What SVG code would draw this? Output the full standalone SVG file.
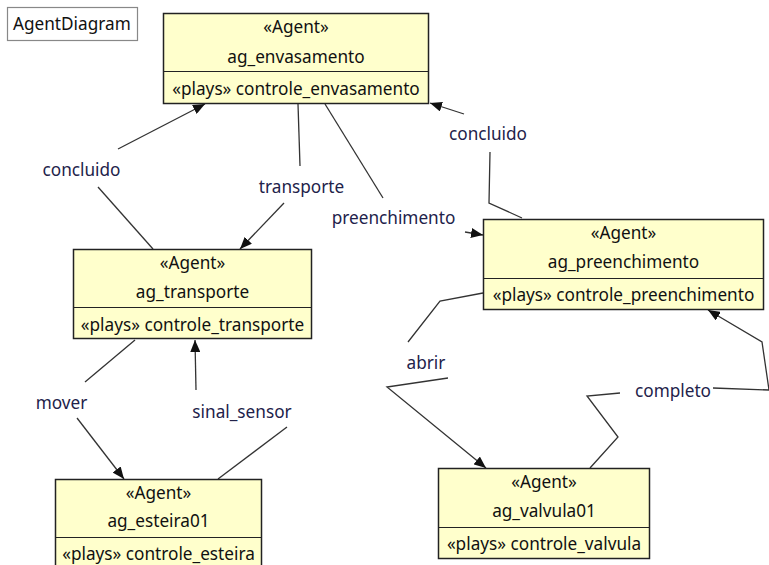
<svg xmlns="http://www.w3.org/2000/svg" width="769" height="565" viewBox="0 0 769 565">
  <defs>
    <marker id="arrow" viewBox="0 0 12 10" refX="12" refY="5" markerWidth="12" markerHeight="10" markerUnits="userSpaceOnUse" orient="auto">
      <path d="M0,0 L12,5 L0,10 z" fill="#111"/>
    </marker>
    <style>
      .node rect { fill: #ffffcc; stroke: #222; stroke-width: 1.5; }
      .node line { stroke: #222; stroke-width: 1.2; }
      .node text { font-family: "Noto Sans", "Open Sans", "DejaVu Sans", sans-serif; font-size: 17.2px; fill: #111; text-anchor: middle; }
      .conn path { fill: none; stroke: #333; stroke-width: 1.3; }
      .conn .arr { marker-end: url(#arrow); }
      .lbl { font-family: "Noto Sans", "Open Sans", "DejaVu Sans", sans-serif; font-size: 17.2px; fill: #22224a; text-anchor: middle; }
      .title rect { fill: #fff; stroke: #888; stroke-width: 1.2; }
      .title text { font-family: "Noto Sans", "Open Sans", "DejaVu Sans", sans-serif; font-size: 17.2px; fill: #111; }
    </style>
  </defs>
  <rect width="769" height="565" fill="#fff"/>

  <g id="diagram-title" class="title">
    <rect x="7.5" y="7.5" width="130" height="33"/>
    <text x="13" y="30">AgentDiagram</text>
  </g>

  <g id="connectors" class="conn">
    <!-- concluido: ag_transporte -> ag_envasamento -->
    <path d="M153,249 L98,187"/>
    <path class="arr" d="M118,149 L205,104"/>
    <!-- transporte: ag_envasamento -> ag_transporte -->
    <path d="M298,104 L300,166"/>
    <path class="arr" d="M284,203 L240,249"/>
    <!-- preenchimento: ag_envasamento -> ag_preenchimento -->
    <path d="M325,104 L383,198"/>
    <path class="arr" d="M465,232 L483,235"/>
    <!-- concluido: ag_preenchimento -> ag_envasamento -->
    <path d="M522,218 L489,203 L490,152"/>
    <path class="arr" d="M464,114 L430,103"/>
    <!-- abrir: ag_preenchimento -> ag_valvula01 -->
    <path d="M483,293 L440,301 L408,342"/>
    <path class="arr" d="M448,378 L387,387 L486,468"/>
    <!-- completo: ag_valvula01 -> ag_preenchimento -->
    <path d="M590,468 L618,437 L587,396 L620,393"/>
    <path class="arr" d="M713,388 L769,390 L762,342 L708,310"/>
    <!-- mover: ag_transporte -> ag_esteira01 -->
    <path d="M135,340 L85,382"/>
    <path class="arr" d="M77,418 L124,479"/>
    <!-- sinal_sensor: ag_esteira01 -> ag_transporte -->
    <path d="M218,479 L287,427"/>
    <path class="arr" d="M196,390 L195,340"/>

    <text class="lbl" x="81.5" y="176">concluido</text>
    <text class="lbl" x="301.5" y="193">transporte</text>
    <text class="lbl" x="393.5" y="224">preenchimento</text>
    <text class="lbl" x="488" y="140">concluido</text>
    <text class="lbl" x="426" y="369">abrir</text>
    <text class="lbl" x="673" y="397">completo</text>
    <text class="lbl" x="61.5" y="409">mover</text>
    <text class="lbl" x="242" y="418">sinal_sensor</text>
  </g>

  <g id="ag_envasamento" class="node">
    <rect x="163.5" y="13.5" width="265" height="90"/>
    <line x1="163.5" y1="71.5" x2="428.5" y2="71.5"/>
    <text x="296" y="33">«Agent»</text>
    <text x="296" y="63">ag_envasamento</text>
    <text x="296" y="95">«plays» controle_envasamento</text>
  </g>

  <g id="ag_transporte" class="node">
    <rect x="73.5" y="249.5" width="238" height="89"/>
    <line x1="73.5" y1="307.5" x2="311.5" y2="307.5"/>
    <text x="192.5" y="269">«Agent»</text>
    <text x="192.5" y="298">ag_transporte</text>
    <text x="192.5" y="331">«plays» controle_transporte</text>
  </g>

  <g id="ag_preenchimento" class="node">
    <rect x="483.5" y="219.5" width="280" height="90"/>
    <line x1="483.5" y1="278.5" x2="763.5" y2="278.5"/>
    <text x="623.5" y="239">«Agent»</text>
    <text x="623.5" y="268">ag_preenchimento</text>
    <text x="623.5" y="301">«plays» controle_preenchimento</text>
  </g>

  <g id="ag_esteira01" class="node">
    <rect x="55.5" y="479.5" width="206" height="100"/>
    <line x1="55.5" y1="537.5" x2="261.5" y2="537.5"/>
    <text x="158.5" y="499">«Agent»</text>
    <text x="158.5" y="527">ag_esteira01</text>
    <text x="158.5" y="560">«plays» controle_esteira</text>
  </g>

  <g id="ag_valvula01" class="node">
    <rect x="438.5" y="468.5" width="211" height="90"/>
    <line x1="438.5" y1="527.5" x2="649.5" y2="527.5"/>
    <text x="544" y="488">«Agent»</text>
    <text x="544" y="517">ag_valvula01</text>
    <text x="544" y="550">«plays» controle_valvula</text>
  </g>
</svg>
